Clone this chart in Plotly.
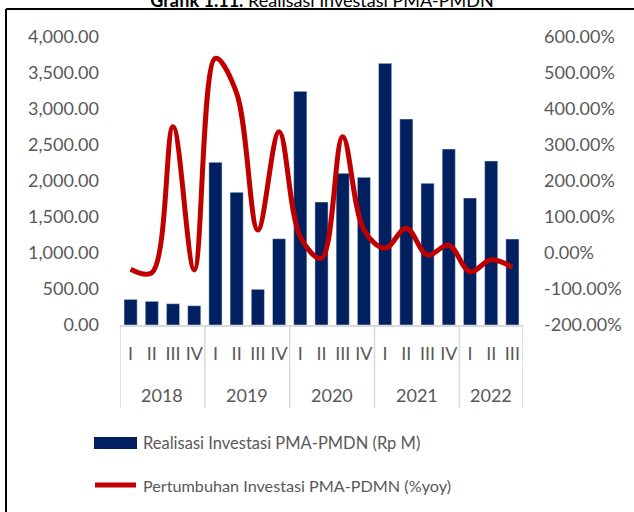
import plotly.graph_objects as go

W, H = 634, 512

# ---- data ----
years = ["2018", "2019", "2020", "2021", "2022"]
quarters_per_year = [4, 4, 4, 4, 3]
quarter_labels = ["I", "II", "III", "IV", "I", "II", "III", "IV", "I", "II", "III", "IV",
                  "I", "II", "III", "IV", "I", "II", "III"]
realisasi = [356, 329, 296, 268, 2260, 1843, 496, 1199, 3245, 1708, 2107, 2051,
             3634, 2861, 1968, 2444, 1764, 2278, 1194]
pertumbuhan = [-45, -55, 351, -47, 541, 444, 64, 337, 45, -15, 323, 64,
               13, 69, -6, 22, -52, -19, -40]
left_ticks = [0, 500, 1000, 1500, 2000, 2500, 3000, 3500, 4000]
right_ticks = [-200, -100, 0, 100, 200, 300, 400, 500, 600]
right_tick_text = ["-200.00%", "-100.00%", "0.00%", "100.00%", "200.00%",
                   "300.00%", "400.00%", "500.00%", "600.00%"]
name_bar = "Realisasi Investasi PMA-PMDN (Rp M)"
name_line = "Pertumbuhan Investasi PMA-PDMN (%yoy)"
title_bold = "Grafik 1.11."
title_rest = " Realisasi Investasi PMA-PMDN"

NAVY = "#002060"
RED = "#C00000"
GREY = "#595959"
DIV = "#D9D9D9"
FONT = "Lato"

xs = list(range(len(realisasi)))

def px(x):
    return x / W

def py(y):
    return (H - y) / H

fig = go.Figure()
fig.add_trace(go.Bar(x=xs, y=realisasi, name=name_bar, marker_color=NAVY,
                     width=0.62, showlegend=False))
fig.add_trace(go.Scatter(x=xs, y=pertumbuhan, name=name_line, yaxis="y2",
                         mode="lines", line=dict(color=RED, width=5, shape="spline", smoothing=1.0),
                         showlegend=False))

plot_x0, plot_x1 = 120, 523
plot_y0, plot_y1 = 37, 325

shapes = []
annotations = []

# group dividers below axis
bounds = [-0.5]
for n in quarters_per_year:
    bounds.append(bounds[-1] + n)
for b in bounds:
    shapes.append(dict(type="line", xref="x", yref="paper", x0=b, x1=b,
                       y0=py(408), y1=py(plot_y1), line=dict(color=DIV, width=1.5)))

# year labels
start = 0
for yr, n in zip(years, quarters_per_year):
    center = start + (n - 1) / 2
    annotations.append(dict(text=yr, xref="x", yref="paper", x=center, y=py(395),
                            showarrow=False, font=dict(family=FONT, size=18, color=GREY),
                            xanchor="center", yanchor="middle"))
    start += n

# legend (manual)
shapes.append(dict(type="rect", xref="paper", yref="paper", x0=px(94), x1=px(137),
                   y0=py(449), y1=py(437), fillcolor=NAVY, line=dict(width=0)))
shapes.append(dict(type="line", xref="paper", yref="paper", x0=px(95), x1=px(136),
                   y0=py(485), y1=py(485), line=dict(color=RED, width=5)))
annotations.append(dict(text=name_bar, xref="paper", yref="paper", x=px(141), y=py(443),
                        showarrow=False, xanchor="left", yanchor="middle",
                        font=dict(family=FONT, size=16.5, color=GREY)))
annotations.append(dict(text=name_line, xref="paper", yref="paper", x=px(141), y=py(485),
                        showarrow=False, xanchor="left", yanchor="middle",
                        font=dict(family=FONT, size=16.2, color=GREY)))

# frame
shapes.append(dict(type="line", xref="paper", yref="paper", x0=px(6), x1=1.0,
                   y0=py(9), y1=py(9), line=dict(color="black", width=2)))
shapes.append(dict(type="line", xref="paper", yref="paper", x0=px(6), x1=px(6),
                   y0=py(9), y1=0, line=dict(color="black", width=2)))

fig.update_layout(
    width=W, height=H,
    margin=dict(l=0, r=0, t=0, b=0, autoexpand=False),
    paper_bgcolor="white", plot_bgcolor="white",
    bargap=0.38,
    title=dict(text="<b>" + title_bold + "</b>" + title_rest,
               x=px(322), xanchor="center", xref="paper",
               yref="container", y=1 - 7 / H, yanchor="bottom",
               font=dict(family=FONT, size=18, color="black")),
    xaxis=dict(domain=[px(plot_x0), px(plot_x1)], range=[-0.5, len(xs) - 0.5],
               tickmode="array", tickvals=xs, ticktext=quarter_labels,
               tickfont=dict(family=FONT, size=18, color=GREY),
               showgrid=False, zeroline=False, showline=True, linecolor=DIV, linewidth=1.5,
               ticks="", ticklabelstandoff=12),
    yaxis=dict(domain=[py(plot_y1), py(plot_y0)], range=[0, 4000],
               tickmode="array", tickvals=left_ticks, tickformat=",.2f",
               tickfont=dict(family=FONT, size=18, color=GREY),
               showgrid=False, zeroline=False, showline=False, ticks="",
               ticklabelstandoff=20),
    yaxis2=dict(overlaying="y", side="right", range=[-200, 600],
                tickmode="array", tickvals=right_ticks, ticktext=right_tick_text,
                tickfont=dict(family=FONT, size=18, color=GREY),
                showgrid=False, zeroline=False, showline=False, ticks="",
                ticklabelstandoff=20),
    shapes=shapes,
    annotations=annotations,
)

fig.write_html("out.html", config={"displayModeBar": False},
               post_script="document.body.style.margin='0';document.body.style.overflow='hidden';")
